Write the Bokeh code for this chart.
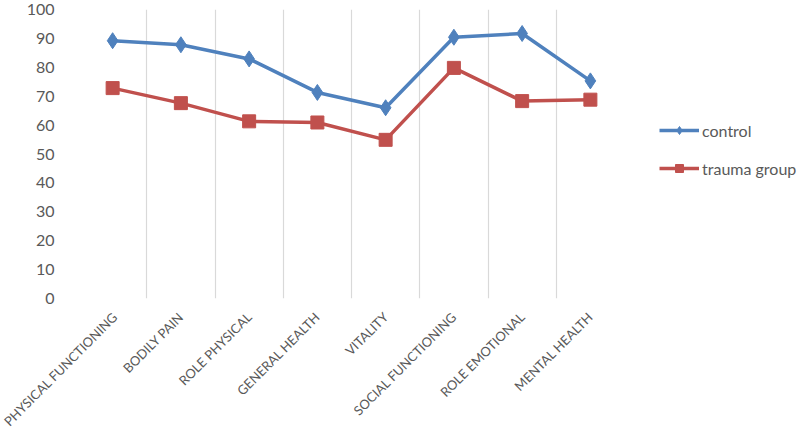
from math import pi
from bokeh.plotting import figure
from bokeh.models import FixedTicker, Legend, LegendItem, Range1d
from bokeh.embed import file_html
from bokeh.resources import INLINE

categories = ["PHYSICAL FUNCTIONING", "BODILY PAIN", "ROLE PHYSICAL", "GENERAL HEALTH",
              "VITALITY", "SOCIAL FUNCTIONING", "ROLE EMOTIONAL", "MENTAL HEALTH"]
control = [89.2, 87.8, 82.9, 71.3, 66.0, 90.4, 91.7, 75.3]
trauma = [72.8, 67.6, 61.3, 60.9, 54.9, 79.8, 68.3, 68.8]
y_ticks = [0, 10, 20, 30, 40, 50, 60, 70, 80, 90, 100]

xs = [i + 0.5 for i in range(len(categories))]

FONT = "Lato"
TXT = "#595959"
BLUE = "#4F81BD"
RED = "#C0504D"
GRID = "#D9D9D9"

p = figure(frame_width=546, frame_height=289, output_backend="svg", toolbar_location=None,
           x_range=Range1d(0, len(categories)), y_range=Range1d(0, 100),
           min_border_left=78, min_border_right=20, min_border_top=9, min_border_bottom=10)
p.outline_line_color = None

l1 = p.line(xs, control, line_color=BLUE, line_width=3.5)
m1 = p.scatter(xs, control, marker="diamond", size=16, fill_color=BLUE, line_color=BLUE)
l2 = p.line(xs, trauma, line_color=RED, line_width=3.5)
m2 = p.scatter(xs, trauma, marker="square", size=13, fill_color=RED, line_color=RED)

# grids
p.xgrid.ticker = FixedTicker(ticks=list(range(len(categories) + 1)))
p.xgrid.grid_line_color = GRID
p.xgrid.grid_line_width = 1.2
p.ygrid.ticker = FixedTicker(ticks=[0])
p.ygrid.grid_line_color = GRID
p.ygrid.grid_line_width = 1.5

# y axis
p.yaxis.ticker = FixedTicker(ticks=y_ticks)
p.yaxis.axis_line_color = None
p.yaxis.major_tick_line_color = None
p.yaxis.minor_tick_line_color = None
p.yaxis.major_label_standoff = 18
p.yaxis.major_label_text_font = FONT
p.yaxis.major_label_text_font_size = "16px"
p.yaxis.major_label_text_color = TXT

# x axis
p.xaxis.ticker = FixedTicker(ticks=xs)
p.xaxis.major_label_overrides = {x: c for x, c in zip(xs, categories)}
p.xaxis.major_label_orientation = pi / 4
p.xaxis.axis_line_color = None
p.xaxis.major_tick_line_color = None
p.xaxis.minor_tick_line_color = None
p.xaxis.major_label_standoff = 10
p.xaxis.major_label_text_font = FONT
p.xaxis.major_label_text_font_size = "13px"
p.xaxis.major_label_text_color = TXT

legend = Legend(items=[LegendItem(label="control", renderers=[l1, m1]),
                       LegendItem(label="trauma group", renderers=[l2, m2])],
                location=(35, 120))
legend.border_line_color = None
legend.background_fill_alpha = 0
legend.label_text_font = FONT
legend.label_text_font_size = "16px"
legend.label_text_color = TXT
legend.glyph_width = 40
legend.label_standoff = 3
legend.spacing = 18
p.add_layout(legend, "right")

open("out.html", "w").write(file_html(p, INLINE))
